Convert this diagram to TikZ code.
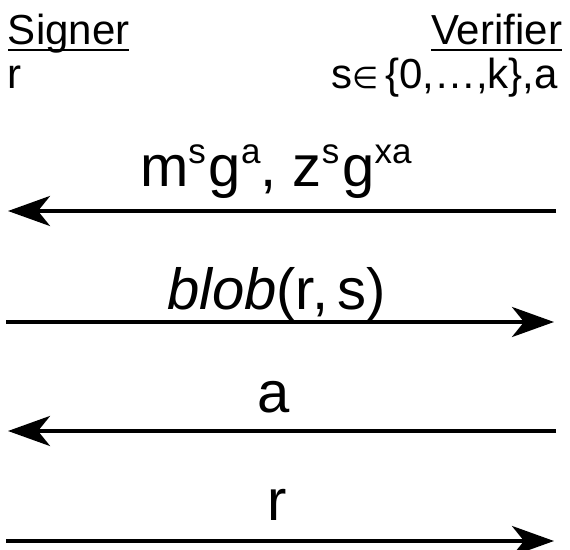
\documentclass[tikz,border=0pt]{standalone}
\usepackage{fontspec}
\setmainfont{Liberation Sans}
\newfontfamily\symfont{DejaVu Sans}
\usetikzlibrary{arrows.meta}
% type sizes for the party headers and the message labels
\newcommand{\hdrsize}{\fontsize{42}{42}\selectfont}
\newcommand{\msgsize}{\fontsize{58}{58}\selectfont}
% raised exponent inside a message label
\newcommand{\spx}[1]{\raisebox{23pt}{\fontsize{35}{35}\selectfont #1}}
% small element-of sign
\newcommand{\elem}{{\symfont\fontsize{30}{30}\selectfont ∈}}

\begin{document}
\begin{tikzpicture}[x=1pt,y=1pt,
  txt/.style={inner sep=0pt, outer sep=0pt},
  hdr/.style={txt, font=\hdrsize},
  msglabel/.style={txt, font=\msgsize, anchor=base west},
  msgline/.style={line width=4pt, -{Stealth[length=42pt,width=30pt,inset=12pt]}},
  uline/.style={line width=2pt}]
\useasboundingbox (0,0) rectangle (570,549);

% parties and their inputs
\node[hdr, anchor=base west] (signer) at (8,504) {Signer};
\node[hdr, anchor=base east] (verifier) at (562,504) {Verifier};
\draw[uline] ([yshift=-5pt]signer.base west) -- ([yshift=-5pt]signer.base east);
\draw[uline] ([yshift=-5pt]verifier.base west) -- ([yshift=-5pt]verifier.base east);
\node[hdr, anchor=base west] (sinput) at (8,460) {r};
\node[hdr, anchor=base east] (vinput) at (558,460) {s\elem\,\{0,…,k\},a};

% endpoints of the four messages
\coordinate (s1) at (8,338);   \coordinate (v1) at (556,338);
\coordinate (s2) at (6,227);   \coordinate (v2) at (554,227);
\coordinate (s3) at (8,118);   \coordinate (v3) at (556,118);
\coordinate (s4) at (6,8);     \coordinate (v4) at (554,8);

% message labels
\node[msglabel] (m1) at (140,362) {m\spx{s}\kern3pt g\spx{a}, z\spx{s}\kern3pt g\spx{xa}};
\node[msglabel] (m2) at (167,239) {\textit{blob}(r,\,s)};
\node[msglabel] (m3) at (257,136) {a};
\node[msglabel] (m4) at (267,29) {r};

% message arrows
\draw[msgline] (v1) -- (s1);
\draw[msgline] (s2) -- (v2);
\draw[msgline] (v3) -- (s3);
\draw[msgline] (s4) -- (v4);
\end{tikzpicture}
\end{document}
